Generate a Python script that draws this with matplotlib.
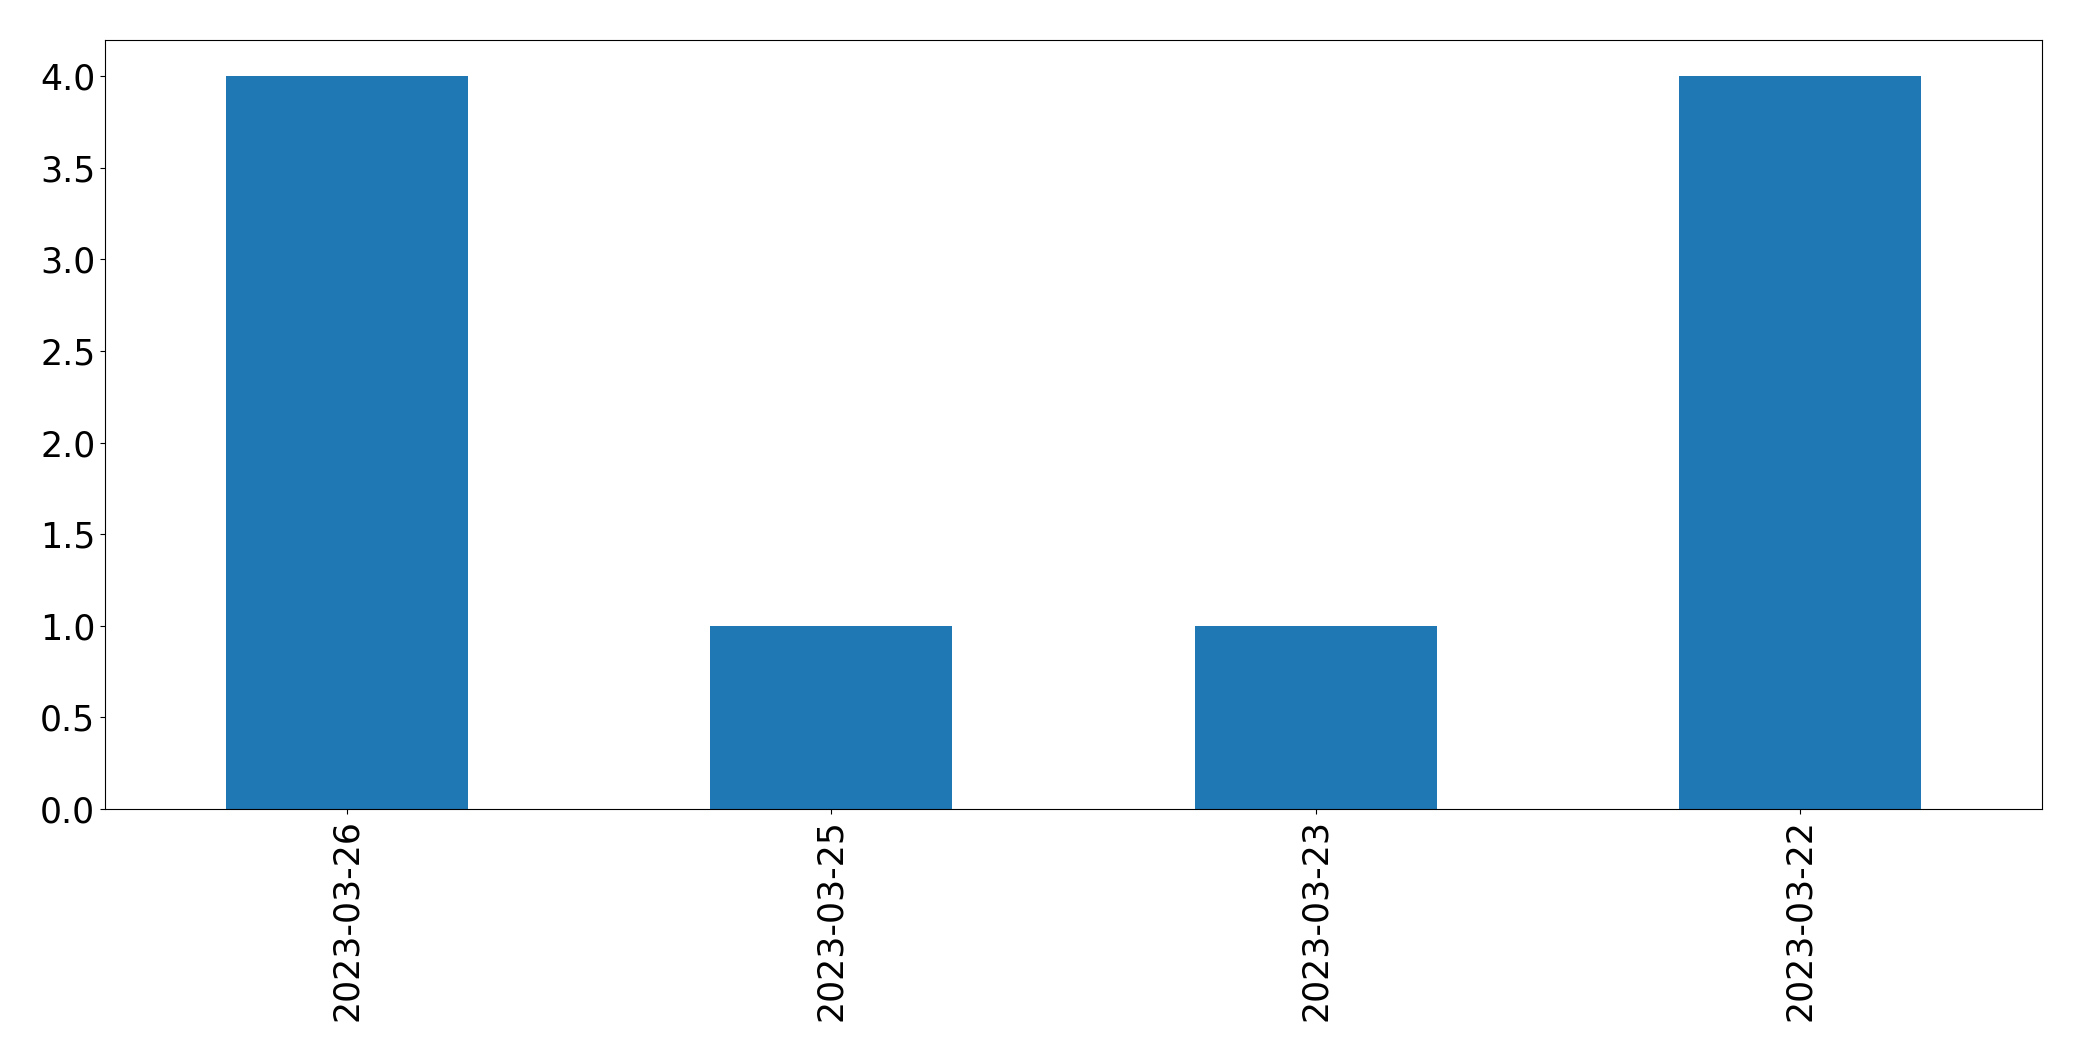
import matplotlib
matplotlib.use("Agg")
import matplotlib.pyplot as plt
import pandas as pd

dates = ["2023-03-26", "2023-03-25", "2023-03-23", "2023-03-22"]
counts = [4, 1, 1, 4]

series = pd.Series(counts, index=dates)

fig = plt.figure(figsize=(20.82, 10.61), dpi=100)
ax = fig.add_axes([105 / 2082, 1 - 809 / 1061, (2042 - 105) / 2082, (809 - 39.5) / 1061])
series.plot(kind="bar", ax=ax, color="#1f77b4", fontsize=25)
ax.set_xlabel("")

fig.savefig("out.png", dpi=100)
